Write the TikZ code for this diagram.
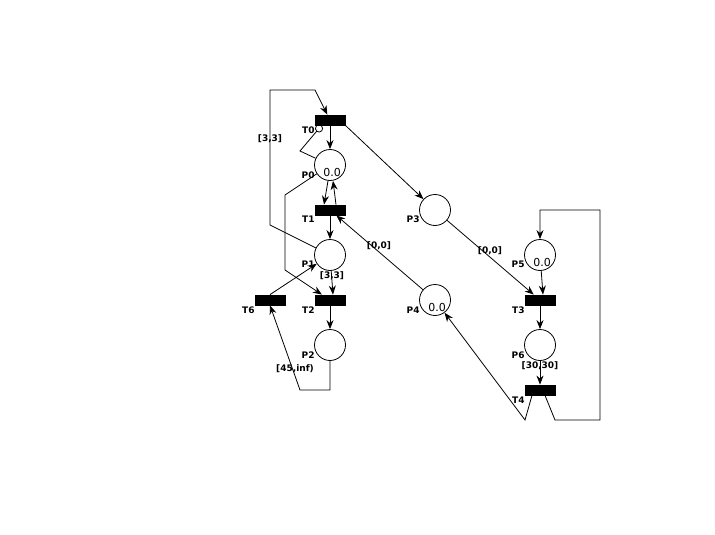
\documentclass[tikz,border=0pt]{standalone}
\usepackage{fontspec}
\setmainfont{DejaVu Sans}
\usetikzlibrary{arrows.meta}

\begin{document}
\begin{tikzpicture}[x=1pt, y=-1pt, line width=0.8pt,
    place/.style={circle, draw, fill=white, minimum size=31pt, inner sep=0pt},
    trans/.style={rectangle, draw, fill=black, minimum width=30pt, minimum height=10pt, inner sep=0pt},
    plabel/.style={font=\bfseries\fontsize{9}{10}\selectfont, inner sep=0pt, anchor=east},
    alabel/.style={font=\bfseries\fontsize{9}{10}\selectfont, inner sep=0pt},
    tok/.style={font=\fontsize{11}{12}\selectfont, inner sep=0pt},
    flow/.style={-{Stealth[length=9pt, width=7pt]}},
    inhib/.style={-{Circle[open, length=8pt]}}]
    \useasboundingbox (0,0) rectangle (715,535);

    % Places
    \node[place] (P0) at (330,165) {};
    \node[place] (P1) at (330,255) {};
    \node[place] (P2) at (330,345) {};
    \node[place] (P3) at (435,210) {};
    \node[place] (P4) at (435,300) {};
    \node[place] (P5) at (540,255) {};
    \node[place] (P6) at (540,345) {};

    % Transitions
    \node[trans] (T0) at (330,120) {};
    \node[trans] (T1) at (330,210) {};
    \node[trans] (T2) at (330,300) {};
    \node[trans] (T6) at (270,300) {};
    \node[trans] (T3) at (540,300) {};
    \node[trans] (T4) at (540,390) {};

    % Tokens
    \node[tok] (m0) at (332,172) {0.0};
    \node[tok] (m4) at (437,307) {0.0};
    \node[tok] (m5) at (542,262) {0.0};

    % Names
    \node[plabel] (lT0) at (315,130) {T0};
    \node[plabel] (lP0) at (315,175) {P0};
    \node[plabel] (lT1) at (315,219) {T1};
    \node[plabel] (lP1) at (315,264) {P1};
    \node[plabel] (lT2) at (315,310) {T2};
    \node[plabel] (lT6) at (255,310) {T6};
    \node[plabel] (lP2) at (315,355) {P2};
    \node[plabel] (lP3) at (420,219) {P3};
    \node[plabel] (lP4) at (420,310) {P4};
    \node[plabel] (lP5) at (525,264) {P5};
    \node[plabel] (lT3) at (525,310) {T3};
    \node[plabel] (lP6) at (525,355) {P6};
    \node[plabel] (lT4) at (525,400) {T4};

    % Arcs
    \draw[flow] (T0) -- (P0);
    \draw[inhib] (P0) -- (300,151) -- ([xshift=7pt]T0.south west);
    \draw[flow] (T0.south east) -- (P3);
    \draw[flow] ([xshift=-2pt]P0.south) -- ([xshift=-6pt]T1.north);
    \draw[flow] ([xshift=6pt]T1.north) -- ([xshift=3pt]P0.south);
    \draw[flow] (T1) -- (P1);
    \draw[flow] (P4) -- (T1);
    \draw[flow] (P1) -- (270,225) -- (270,90) -- (315,90) -- (T0);
    \draw[flow] (P0) -- (285,195) -- (285,270) -- (T2);
    \draw[flow] (P1) -- ([xshift=3pt]T2.north);
    \draw[flow] (T6.north) -- (P1);
    \draw[flow] (T2) -- (P2);
    \draw[flow] (P2.south) -- (330,390) -- (300,390) -- (T6.south);
    \draw[flow] (P3) -- (T3);
    \draw[flow] (P5) -- ([xshift=3pt]T3.north);
    \draw[flow] (T3) -- (P6);
    \draw[flow] (P6) -- (T4);
    \draw[flow] ([xshift=-8pt]T4.south) -- (525,420) -- (P4);
    \draw[flow] ([xshift=5pt]T4.south) -- (555,420) -- (600,420) -- (600,210) -- (540,210) -- (P5.north);

    % Intervals
    \node[alabel] (i0) at (270,139) {[3,3]};
    \node[alabel] (i1) at (379,246) {[0,0]};
    \node[alabel] (i2) at (332,276) {[3,3]};
    \node[alabel] (i3) at (295,369) {[45,inf)};
    \node[alabel] (i4) at (490,251) {[0,0]};
    \node[alabel] (i5) at (540,366) {[30,30]};
\end{tikzpicture}
\end{document}
